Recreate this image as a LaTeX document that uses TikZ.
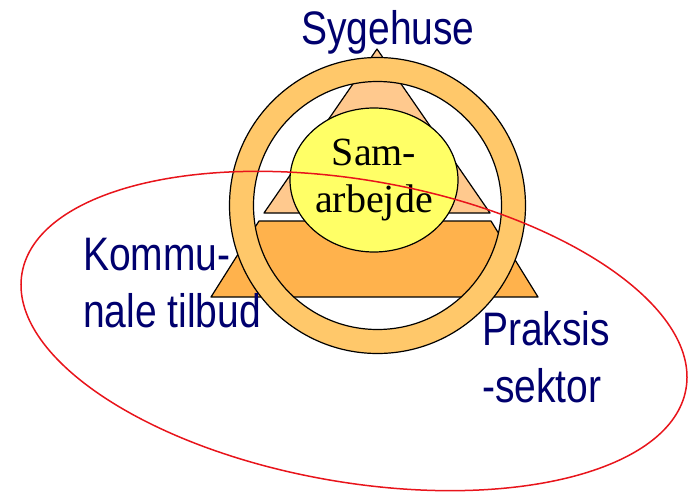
\documentclass[tikz,border=0pt]{standalone}
\usepackage{fontspec}
\usetikzlibrary{shapes.geometric}
\newfontfamily\lblfont{Liberation Sans}
\newfontfamily\samfont{Liberation Serif}
\definecolor{navy}{HTML}{00006E}
\definecolor{peach}{HTML}{FFC98E}
\definecolor{amber}{HTML}{FFB24C}
\definecolor{ringc}{HTML}{FFC86A}
\definecolor{lemon}{HTML}{FFFF66}
\definecolor{redl}{HTML}{E8141B}
\tikzset{
  shp/.style={draw=black,line width=1.2pt,fill=#1,line join=round},
  ringshp/.style={draw=black,line width=1.2pt,fill=ringc,even odd rule},
  samell/.style={ellipse,draw=black,line width=1.2pt,fill=lemon,
                 minimum width=168pt,minimum height=144pt,inner sep=0pt,
                 font=\samfont\fontsize{40}{47}\selectfont,align=center},
  lbl/.style={font=\lblfont\fontsize{47}{57}\selectfont,text=navy,
              align=left,inner sep=0pt,xscale=0.83,transform shape},
  redring/.style={draw=redl,line width=1.5pt},
}
\begin{document}
\begin{tikzpicture}[x=1pt,y=-1pt]
  \useasboundingbox (0,0) rectangle (689,495);
  % pyramid
  \draw[shp=peach] (377,49) -- (490,213) -- (264,213) -- cycle;
  \draw[shp=amber] (259,221) -- (491,221) -- (538,297) -- (211,297) -- cycle;
  \node[samell] (sam) at (374,180) {Sam-\\arbejde};
  % ring
  \draw[ringshp] (377.5,205.5) circle [radius=148] (377.5,205.5) circle [radius=124];
  \draw[redring,rotate around={-9.9:(354,331)}] (354,331) ellipse [x radius=337,y radius=151];

  \node[lbl,anchor=base west]  (syg)  at (301,45)  {Sygehuse};
  \node[lbl,anchor=north west] (komm) at (83,238)  {Kommu-\\nale tilbud};
  \node[lbl,anchor=north west] (prak) at (482,311) {Praksis\\-sektor};
\end{tikzpicture}
\end{document}
